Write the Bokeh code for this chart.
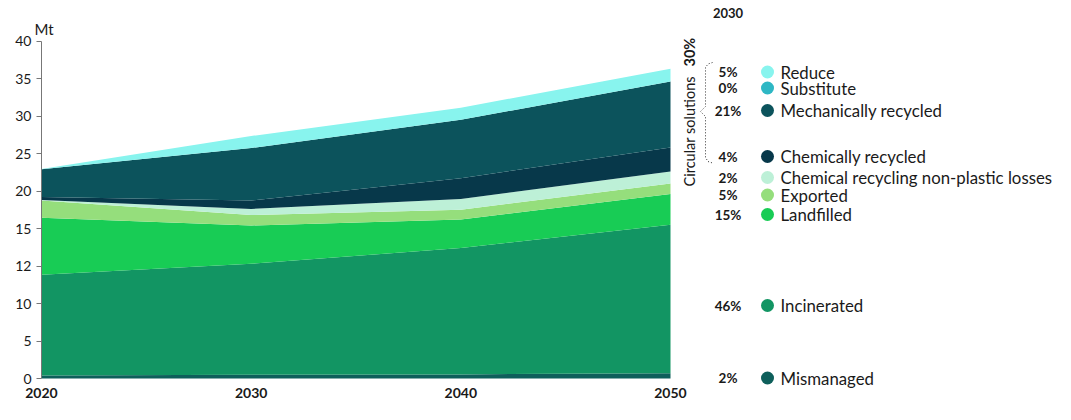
import math
from bokeh.plotting import figure
from bokeh.models import ColumnDataSource, Range1d, FixedTicker
from bokeh.core.properties import value
from bokeh.embed import file_html
from bokeh.resources import INLINE

# ---------------- data (values in the chart's plotted axis units) ----------------
years = [2020, 2030, 2040, 2050]
mismanaged = [0.4, 0.5, 0.55, 0.7]
incinerated = [13.45, 14.8, 16.85, 19.8]
landfilled = [7.6, 5.1, 3.8, 4.1]
exported = [2.3, 1.4, 1.3, 1.4]
chem_losses = [0.05, 0.8, 1.45, 1.6]
chem_recycled = [0.4, 1.13, 2.75, 3.2]
mech_recycled = [3.7, 7.0, 7.8, 8.8]
substitute = [0.0, 0.0, 0.0, 0.0]
reduce_ = [0.05, 1.6, 1.6, 1.7]

# y tick positions and the labels shown on the original axis
y_ticks = [0, 5, 10, 15, 20, 25, 30, 35, 40, 45]
y_tick_labels = ["0", "5", "10", "12", "15", "20", "25", "30", "35", "40"]
x_ticks = [2020, 2030, 2040, 2050]
y_unit = "Mt"

# legend (top to bottom)
legend_names = ["Reduce", "Substitute", "Mechanically recycled", "Chemically recycled",
                "Chemical recycling non-plastic losses", "Exported", "Landfilled",
                "Incinerated", "Mismanaged"]
legend_pcts = ["5%", "0%", "21%", "4%", "2%", "5%", "15%", "46%", "2%"]
legend_year = "2030"
circular_label = "Circular solutions"
circular_pct = "30%"

# ---------------- styles ----------------
colors = {
    "Mismanaged": "#0e5f5b",
    "Incinerated": "#129563",
    "Landfilled": "#18cc55",
    "Exported": "#95de7c",
    "Chemical recycling non-plastic losses": "#bdf0d7",
    "Chemically recycled": "#07384a",
    "Mechanically recycled": "#0c535c",
    "Substitute": "#2eb7c4",
    "Reduce": "#88f4ee",
}
FONT = "Lato"
TXT = "#1a1a1a"

stack_order = ["Mismanaged", "Incinerated", "Landfilled", "Exported",
               "Chemical recycling non-plastic losses", "Chemically recycled",
               "Mechanically recycled", "Substitute", "Reduce"]
series = {
    "Mismanaged": mismanaged, "Incinerated": incinerated, "Landfilled": landfilled,
    "Exported": exported, "Chemical recycling non-plastic losses": chem_losses,
    "Chemically recycled": chem_recycled, "Mechanically recycled": mech_recycled,
    "Substitute": substitute, "Reduce": reduce_,
}

src = ColumnDataSource(dict(year=years, **series))

# layout: frame covers the whole canvas; axes are pinned inside it
W, H = 1063, 412
X0, X1 = 41, 670          # canvas x of 2020 / 2050
Y0, PXU = 378, 7.5        # canvas y of value 0, pixels per unit
xpx = (X1 - X0) / 30.0
x_start = 2020 - X0 / xpx
x_end = 2020 + (W - X0) / xpx
y_start = -(H - Y0) / PXU
y_end = Y0 / PXU

p = figure(width=W, height=H, output_backend="svg", toolbar_location=None,
           x_range=Range1d(x_start, x_end), y_range=Range1d(y_start, y_end),
           min_border=0)
p.outline_line_color = None
p.xgrid.visible = False
p.ygrid.visible = False
p.background_fill_color = "white"

# canvas-pixel coordinate ranges for the annotation panel
p.extra_x_ranges = {"px": Range1d(0, W)}
p.extra_y_ranges = {"py": Range1d(H, 0)}

p.varea_stack(stackers=stack_order, x="year", source=src,
              color=[colors[s] for s in stack_order])

# axes
p.yaxis.fixed_location = 2020
p.yaxis.ticker = FixedTicker(ticks=y_ticks)
p.yaxis.major_label_overrides = {t: l for t, l in zip(y_ticks, y_tick_labels)}
p.yaxis.bounds = (0, 45)
p.yaxis.axis_line_color = "#777777"
p.yaxis.major_tick_line_color = "#777777"
p.yaxis.major_tick_in = 0
p.yaxis.major_tick_out = 5
p.yaxis.minor_tick_line_color = None
p.yaxis.major_label_text_font = FONT
p.yaxis.major_label_text_font_size = "14px"
p.yaxis.major_label_text_color = TXT
p.yaxis.major_label_standoff = 5

p.xaxis.fixed_location = 0
p.xaxis.ticker = FixedTicker(ticks=x_ticks)
p.xaxis.axis_line_color = None
p.xaxis.major_tick_line_color = None
p.xaxis.minor_tick_line_color = None
p.xaxis.major_label_text_font = FONT
p.xaxis.major_label_text_font_style = "bold"
p.xaxis.major_label_text_font_size = "14px"
p.xaxis.major_label_text_color = TXT
p.xaxis.major_label_standoff = 3

# unit label
p.text(x=[43.5], y=[28], text=[y_unit], x_range_name="px", y_range_name="py",
       text_font=value(FONT), text_font_size="15px", text_color=TXT,
       text_align="center", text_baseline="middle")

# legend layout (canvas pixels)
leg_y = [71.5, 87.5, 110, 156, 177, 194.5, 214, 305, 377.5]
pct_x, dot_x, lab_x = 727.5, 767, 780

p.text(x=[pct_x], y=[12], text=[legend_year], x_range_name="px", y_range_name="py",
       text_font=value(FONT), text_font_style="bold", text_font_size="13px",
       text_color=TXT, text_align="center", text_baseline="middle")
p.text(x=[pct_x] * len(leg_y), y=leg_y, text=legend_pcts, x_range_name="px", y_range_name="py",
       text_font=value(FONT), text_font_style="bold", text_font_size="13.5px",
       text_color=TXT, text_align="center", text_baseline="middle")
p.scatter(x=[dot_x] * len(leg_y), y=leg_y, size=13, x_range_name="px", y_range_name="py",
          color=[colors[n] for n in legend_names], line_color=None)
p.text(x=[lab_x] * len(leg_y), y=leg_y, text=legend_names, x_range_name="px", y_range_name="py",
       text_font=value(FONT), text_font_size="16.8px", text_color=TXT,
       text_align="left", text_baseline="middle")

# circular solutions bracket
bx = [712, 707.5, 705, 705, 700, 705, 705, 707.5, 712]
by = [62, 63.5, 67, 106, 111, 116, 157, 161, 162.5]
p.line(bx, by, x_range_name="px", y_range_name="py", line_color="#333333",
       line_width=1, line_dash="1 2")

p.text(x=[689], y=[186], text=[circular_label], angle=math.pi / 2,
       x_range_name="px", y_range_name="py", text_font=value(FONT),
       text_font_size="14.5px", text_color=TXT, text_align="left", text_baseline="middle")
p.text(x=[689], y=[66], text=[circular_pct], angle=math.pi / 2,
       x_range_name="px", y_range_name="py", text_font=value(FONT), text_font_style="bold",
       text_font_size="14.5px", text_color=TXT, text_align="left", text_baseline="middle")

open("out.html", "w").write(file_html(p, INLINE))
